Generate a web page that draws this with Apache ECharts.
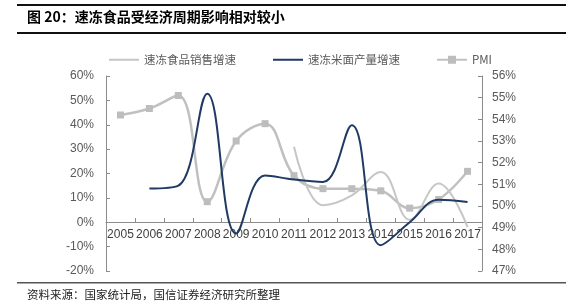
<!DOCTYPE html>
<html>
<head>
<meta charset="utf-8">
<script src="https://cdn.jsdelivr.net/npm/echarts@6/dist/echarts.min.js"></script>
<style>
html,body{margin:0;padding:0;background:#fff}
#c{width:582px;height:307px}
</style>
</head>
<body>
<div id="c"></div>
<script>
var categories = ['2005','2006','2007','2008','2009','2010','2011','2012','2013','2014','2015','2016','2017'];
var salesGrowth = [null, null, null, null, null, null, 31, 7, 11, 20.6, 1, 15.9, -2];
var productionGrowth = [null, 13.8, 15, 52.7, -4.6, 19.2, 17.5, 16.5, 39.8, -9.4, 0, 9.2, 8.3];
var pmi = [54.2, 54.5, 55.1, 50.2, 53.0, 53.8, 51.4, 50.8, 50.8, 50.7, 49.9, 50.3, 51.6];
var seriesNames = ['速冻食品销售增速', '速冻米面产量增速', 'PMI'];
var titleText = '图 20：速冻食品受经济周期影响相对较小';
var sourceText = '资料来源：国家统计局，国信证券经济研究所整理';

var chart = echarts.init(document.getElementById('c'), null, {renderer: 'canvas'});
var axisColor = '#8c8c8c';
var labelColor = '#595959';
var cjk = '"Noto Sans CJK SC", sans-serif';
var latin = '"Liberation Sans", Arial, sans-serif';

chart.setOption({
  animation: false,
  backgroundColor: '#fff',
  graphic: {
    elements: [
      {type: 'rect', x: 17, y: 4, shape: {x: 0, y: 0, width: 549, height: 2}, style: {fill: '#111'}, z: 50},
      {type: 'rect', x: 17, y: 32, shape: {x: 0, y: 0, width: 549, height: 2}, style: {fill: '#111'}, z: 50},
      {type: 'rect', x: 17, y: 282, shape: {x: 0, y: 0, width: 549, height: 1.5}, style: {fill: '#555'}, z: 50},
      {type: 'text', left: 27, top: 10, z: 100, style: {text: titleText, fill: '#000', font: 'bold 14px ' + cjk}},
      {type: 'text', left: 27, top: 289, z: 100, style: {text: sourceText, fill: '#222', font: '11.5px ' + cjk}}
    ]
  },
  legend: {
    left: 103, top: 49,
    itemWidth: 30, itemHeight: 10, itemGap: 36,
    textStyle: {fontFamily: cjk, fontSize: 11.5, color: labelColor},
    data: [
      {name: seriesNames[0], itemStyle: {opacity: 0}},
      {name: seriesNames[1], itemStyle: {opacity: 0}},
      {name: seriesNames[2]}
    ]
  },
  grid: [
    {left: 106, right: 100, top: 76, bottom: 36},
    {left: 106, right: 100, top: 76, height: 146}
  ],
  xAxis: [
    {
      type: 'category', gridIndex: 0, data: categories, boundaryGap: true, show: false
    },
    {
      type: 'category', gridIndex: 1, data: categories, boundaryGap: true, position: 'bottom',
      axisLine: {show: true, onZero: false, lineStyle: {color: axisColor}},
      axisTick: {show: true, inside: true, length: 4, lineStyle: {color: axisColor}},
      axisLabel: {margin: 7, color: '#404040', fontFamily: latin, fontSize: 12, interval: 0}
    }
  ],
  yAxis: [
    {
      type: 'value', gridIndex: 0, min: -20, max: 60, interval: 10,
      splitLine: {show: false},
      axisLine: {show: true, lineStyle: {color: axisColor}},
      axisTick: {show: true, inside: true, length: 4, lineStyle: {color: axisColor}},
      axisLabel: {margin: 12, color: labelColor, fontFamily: latin, fontSize: 12, formatter: '{value}%'}
    },
    {
      type: 'value', gridIndex: 0, min: 47, max: 56, interval: 1, position: 'right',
      splitLine: {show: false},
      axisLine: {show: true, lineStyle: {color: axisColor}},
      axisTick: {show: true, inside: true, length: 4, lineStyle: {color: axisColor}},
      axisLabel: {margin: 10, color: labelColor, fontFamily: latin, fontSize: 12, formatter: '{value}%'}
    },
    {
      type: 'value', gridIndex: 1, min: 0, max: 60, show: false
    }
  ],
  series: [
    {
      name: seriesNames[0], type: 'line', xAxisIndex: 0, yAxisIndex: 0, data: salesGrowth,
      smooth: 0.4, symbol: 'none', connectNulls: false,
      lineStyle: {color: '#c6c6c6', width: 2}, itemStyle: {color: '#c6c6c6'}, z: 2
    },
    {
      name: seriesNames[1], type: 'line', xAxisIndex: 0, yAxisIndex: 0, data: productionGrowth,
      smooth: 0.4, symbol: 'none', connectNulls: false,
      lineStyle: {color: '#1f3a63', width: 2}, itemStyle: {color: '#1f3a63'}, z: 3
    },
    {
      name: seriesNames[2], type: 'line', xAxisIndex: 0, yAxisIndex: 1, data: pmi,
      smooth: 0.4, symbol: 'rect', symbolSize: 7, showSymbol: true,
      lineStyle: {color: '#c0c0c0', width: 2.5}, itemStyle: {color: '#bdbdbd'}, z: 1
    }
  ]
});
</script>
</body>
</html>
